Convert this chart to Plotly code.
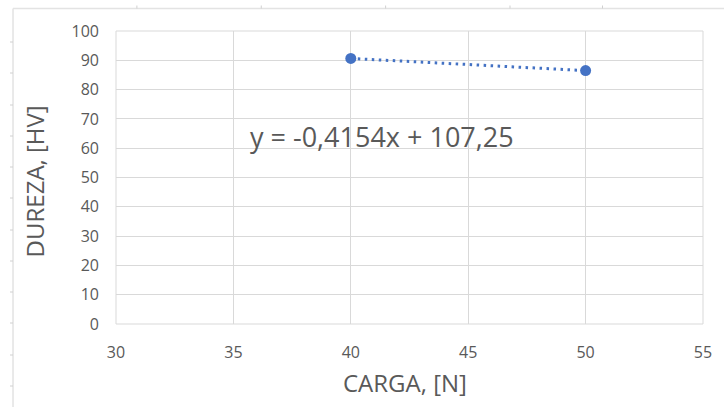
import numpy as np
import plotly.graph_objects as go

# Measured data
carga = [40, 50]              # N
dureza = [90.634, 86.48]      # HV

x_ticks = [30, 35, 40, 45, 50, 55]
y_ticks = [0, 10, 20, 30, 40, 50, 60, 70, 80, 90, 100]

# Linear trendline
slope, intercept = np.polyfit(carga, dureza, 1)
trend_x = np.array([min(carga), max(carga)])
trend_y = slope * trend_x + intercept

def fmt(v, nd):
    return f"{v:.{nd}f}".replace(".", ",")

eq_text = f"y = {fmt(slope, 4)}x + {fmt(intercept, 2)}"

W, H = 724, 407
L, R, T, B = 116, 18, 31, 83
PW, PH = W - L - R, H - T - B

def px(xp):
    return (xp - L) / PW

def py(yp):
    return (H - B - yp) / PH

BLUE = "#4472C4"
GRID = "#D9D9D9"
TXT = "#595959"
FONT = "Open Sans"

fig = go.Figure()
fig.add_trace(go.Scatter(
    x=trend_x, y=trend_y, mode="lines",
    line=dict(color=BLUE, width=3, dash="2.5px,4.5px"),
    hoverinfo="skip", showlegend=False,
))
fig.add_trace(go.Scatter(
    x=carga, y=dureza, mode="markers",
    marker=dict(color=BLUE, size=11, line=dict(width=0)),
    showlegend=False,
))

fig.update_xaxes(
    range=[30, 55], tickvals=x_ticks, ticktext=[str(v) for v in x_ticks],
    showgrid=True, gridcolor=GRID, gridwidth=1, zeroline=False,
    showline=False, ticks="", ticklabelstandoff=17,
    tickfont=dict(family=FONT, size=16, color=TXT),
)
fig.update_yaxes(
    range=[0, 100], tickvals=y_ticks, ticktext=[str(v) for v in y_ticks],
    showgrid=True, gridcolor=GRID, gridwidth=1, zeroline=False,
    showline=False, ticks="", ticklabelstandoff=16,
    tickfont=dict(family=FONT, size=16, color=TXT),
)

shapes = []
# outer chart frame (top and left edges)
shapes.append(dict(type="line", xref="paper", yref="paper",
                   x0=px(12.5), x1=px(W + 5), y0=py(8.5), y1=py(8.5),
                   line=dict(color="#E3E3E3", width=1.5)))
shapes.append(dict(type="line", xref="paper", yref="paper",
                   x0=px(12.5), x1=px(12.5), y0=py(8.5), y1=py(H + 5),
                   line=dict(color="#E3E3E3", width=1.5)))
for yy in [42, 73, 105, 136, 167, 198, 230, 261, 292, 323, 355, 386]:
    shapes.append(dict(type="line", xref="paper", yref="paper",
                       x0=px(9.5), x1=px(12.5), y0=py(yy), y1=py(yy),
                       line=dict(color="#D0D0D0", width=1)))
for xx in [137, 262, 387, 512, 605]:
    shapes.append(dict(type="line", xref="paper", yref="paper",
                       x0=px(xx), x1=px(xx), y0=py(5.5), y1=py(8.5),
                       line=dict(color="#D0D0D0", width=1)))
# plot-area border
shapes.append(dict(type="rect", xref="paper", yref="paper",
                   x0=0, x1=1, y0=0, y1=1,
                   line=dict(color=GRID, width=1), layer="below"))

annotations = [
    dict(text="CARGA, [N]", xref="paper", yref="paper",
         x=px(406), y=py(382), xanchor="center", yanchor="middle",
         showarrow=False, font=dict(family=FONT, size=24, color=TXT)),
    dict(text="DUREZA, [HV]", xref="paper", yref="paper",
         x=px(34), y=py(181), xanchor="center", yanchor="middle",
         textangle=-90, showarrow=False,
         font=dict(family=FONT, size=24, color=TXT)),
    dict(text=eq_text, xref="paper", yref="paper",
         x=px(249), y=py(136), xanchor="left", yanchor="middle",
         showarrow=False, font=dict(family=FONT, size=27, color=TXT)),
]

fig.update_layout(
    width=W, height=H,
    margin=dict(l=L, r=R, t=T, b=B),
    paper_bgcolor="white", plot_bgcolor="white",
    shapes=shapes, annotations=annotations,
    showlegend=False,
)

fig.write_html("out.html", config={"displayModeBar": False})
